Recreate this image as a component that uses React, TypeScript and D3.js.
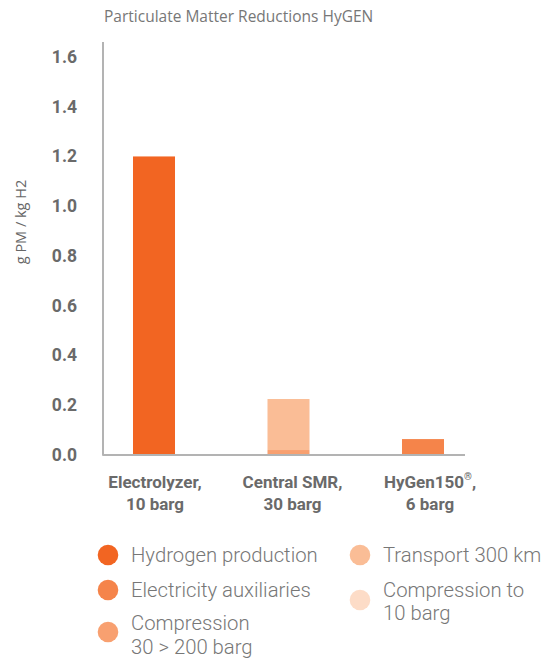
import React from "react";
import * as d3 from "d3";

const categories = ["Electrolyzer", "Central SMR", "HyGen150"];
const categoryLine1 = ["Electrolyzer,", "Central SMR,", "HyGen150"];
const categoryLine1Sup = ["", "", "®"];
const categoryLine1Tail = ["", "", ","];
const categoryLine2 = ["10 barg", "30 barg", "6 barg"];

const seriesNames = [
  "Hydrogen production",
  "Electricity auxiliaries",
  "Compression 30 > 200 barg",
  "Transport 300 km",
  "Compression to 10 barg",
];
const hydrogenProduction = [1.2, 0, 0];
const electricityAuxiliaries = [0, 0, 0.064];
const compression30to200 = [0, 0.02, 0];
const transport300km = [0, 0.205, 0];
const compressionTo10 = [0, 0, 0];

const yTicks = [0, 0.2, 0.4, 0.6, 0.8, 1.0, 1.2, 1.4, 1.6];

const colors = ["#F26522", "#F5844A", "#F8A070", "#FABD96", "#FDDCC7"];

const legendLines = [
  ["Hydrogen production"],
  ["Electricity auxiliaries"],
  ["Compression", "30 > 200 barg"],
  ["Transport 300 km"],
  ["Compression to", "10 barg"],
];

export default function App() {
  const W = 549;
  const H = 664;
  const x0 = 103;
  const yBase = 455;
  const yTop = 42;

  const y = d3.scaleLinear().domain([0, 1.66]).range([yBase, yTop]);
  const x = d3
    .scaleBand<string>()
    .domain(categories)
    .range([86.75, 490.25])
    .paddingInner(0.6877)
    .paddingOuter(0.34385);
  const xLabel = d3.scalePoint<string>().domain(categories).range([155, 430]);

  const table = categories.map((c, i) => ({
    cat: c,
    [seriesNames[0]]: hydrogenProduction[i],
    [seriesNames[1]]: electricityAuxiliaries[i],
    [seriesNames[2]]: compression30to200[i],
    [seriesNames[3]]: transport300km[i],
    [seriesNames[4]]: compressionTo10[i],
  }));
  const stacked = d3.stack<any>().keys(seriesNames)(table);

  const gray = "#6a6a6a";
  const legendPos = [
    { cx: 108, cy: 555, ty: [555] },
    { cx: 108, cy: 590, ty: [590] },
    { cx: 108, cy: 632, ty: [623, 647] },
    { cx: 360, cy: 555, ty: [555] },
    { cx: 360, cy: 600, ty: [590, 613] },
  ];

  return (
    <svg
      width={W}
      height={H}
      style={{ position: "absolute", left: 0, top: 0, display: "block", background: "#fff" }}
    >
      <text
        x={104}
        y={16}
        dominantBaseline="central"
        fontFamily="'Open Sans', sans-serif"
        fontSize={15.5}
        fill="#777"
      >
        Particulate Matter Reductions HyGEN
      </text>

      <text
        transform={`translate(20,222) rotate(-90)`}
        textAnchor="middle"
        dominantBaseline="central"
        fontFamily="'Open Sans', sans-serif"
        fontSize={14.5}
        fill="#666"
      >
        g PM / kg H2
      </text>

      {yTicks.map((t) => (
        <text
          key={t}
          x={77}
          y={y(t)}
          textAnchor="end"
          dominantBaseline="central"
          fontFamily="Roboto, sans-serif"
          fontWeight="bold"
          fontSize={17.5}
          fill={gray}
        >
          {t.toFixed(1)}
        </text>
      ))}

      {stacked.map((s, si) =>
        s.map((d, i) =>
          d[1] - d[0] > 0 ? (
            <rect
              key={`${si}-${i}`}
              x={x(categories[i])}
              y={y(d[1])}
              width={x.bandwidth()}
              height={y(d[0]) - y(d[1])}
              fill={colors[si]}
            />
          ) : null
        )
      )}

      <line x1={x0} x2={x0} y1={yTop} y2={yBase} stroke="#9a9a9a" strokeWidth={1.5} />
      <line x1={x0 - 0.75} x2={465} y1={yBase} y2={yBase} stroke="#b3b3b3" strokeWidth={2} />

      {categories.map((c, i) => (
        <g key={c} fontFamily="Roboto, sans-serif" fontWeight="bold" fontSize={17} fill={gray}>
          <text x={xLabel(c)} y={482} textAnchor="middle" dominantBaseline="central">
            {categoryLine1[i]}
            {categoryLine1Sup[i] ? (
              <tspan fontSize={10} dy={-6}>
                {categoryLine1Sup[i]}
              </tspan>
            ) : null}
            {categoryLine1Tail[i] ? <tspan dy={6}>{categoryLine1Tail[i]}</tspan> : null}
          </text>
          <text x={xLabel(c)} y={504} textAnchor="middle" dominantBaseline="central">
            {categoryLine2[i]}
          </text>
        </g>
      ))}

      {seriesNames.map((n, i) => (
        <g key={n}>
          <circle cx={legendPos[i].cx} cy={legendPos[i].cy} r={10.3} fill={colors[i]} />
          {legendLines[i].map((ln, j) => (
            <text
              key={j}
              x={legendPos[i].cx + 23}
              y={legendPos[i].ty[j]}
              dominantBaseline="central"
              fontFamily="Roboto, sans-serif"
              fontWeight={300}
              fontSize={20.3}
              fill="#777"
            >
              {ln}
            </text>
          ))}
        </g>
      ))}
    </svg>
  );
}
